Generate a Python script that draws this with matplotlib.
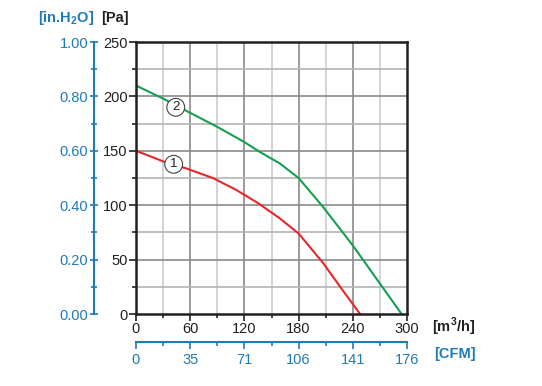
import numpy as np
import matplotlib
matplotlib.use('Agg')
import matplotlib.pyplot as plt

plt.rcParams['font.family'] = ['Liberation Sans', 'DejaVu Sans']
plt.rcParams['mathtext.fontset'] = 'custom'
plt.rcParams['mathtext.rm'] = 'Liberation Sans'
plt.rcParams['mathtext.bf'] = 'Liberation Sans:bold'

# curve 1 (red) and curve 2 (green), flow in m3/h, pressure in Pa
flow1 = [0, 31, 55, 85, 111, 135, 159, 180, 207, 226, 248]
pres1 = [150, 140, 134, 125, 114, 102, 88, 74, 47, 25, 0]
flow2 = [0, 30, 55, 90, 120, 137, 159, 180, 207, 240, 270, 294]
pres2 = [210, 198, 187, 172, 158, 149, 138.5, 125, 98.5, 63, 28, 0]

x_ticks = [0, 60, 120, 180, 240, 300]
cfm_labels = ['0', '35', '71', '106', '141', '176']
pa_ticks = [0, 50, 100, 150, 200, 250]
inh2o_ticks = [0.0, 0.2, 0.4, 0.6, 0.8, 1.0]

blue = '#1f7bb6'
dark = '#231f20'

fig = plt.figure(figsize=(5.42, 3.86), dpi=100)
ax = fig.add_axes([136/542, 72/386, 271/542, 272/386])

# grid
for xv in range(30, 300, 30):
    c = '#8a8a8a' if xv % 60 == 0 else '#cccccc'
    ax.axvline(xv, color=c, lw=1.2, zorder=1)
for yv in range(25, 250, 25):
    c = '#8a8a8a' if yv % 50 == 0 else '#b4b4b4'
    ax.axhline(yv, color=c, lw=1.2, zorder=1)

ax.plot(flow1, pres1, color='#e8262b', lw=1.5, zorder=3)
ax.plot(flow2, pres2, color='#14a050', lw=1.5, zorder=3)

for xc, yc, s in [(41.7, 137.6, '1'), (44, 190, '2')]:
    ax.text(xc, yc, s, ha='center', va='center', fontsize=9.5, color=dark, zorder=4,
            bbox=dict(boxstyle='circle,pad=0.22', fc='white', ec='#444444', lw=0.8))

ax.set_xlim(0, 300)
ax.set_ylim(0, 250)
ax.set_xticks(x_ticks)
ax.set_xticks(range(0, 301, 30), minor=True)
ax.set_yticks(pa_ticks)
ax.set_yticks(range(0, 251, 25), minor=True)
ax.tick_params(axis='both', which='major', direction='out', length=5, width=1.2,
               labelsize=10.5, colors=dark, pad=1)
ax.tick_params(axis='both', which='minor', direction='out', length=3, width=1.2, colors=dark)
for sp in ax.spines.values():
    sp.set_color(dark)
    sp.set_linewidth(1.8)
    sp.set_zorder(5)

# left blue axis in in.H2O
secy = ax.secondary_yaxis(-42/271, functions=(lambda p: p/250, lambda v: v*250))
secy.set_yticks(inh2o_ticks)
secy.set_yticklabels(['%.2f' % v for v in inh2o_ticks])
secy.set_yticks(np.arange(0.1, 1.0, 0.2), minor=True)
secy.tick_params(which='major', direction='inout', length=6, width=1.2, colors=blue,
                 labelsize=10.5, pad=1)
secy.tick_params(which='minor', direction='inout', length=4, width=1.2, colors=blue)
secy.spines['left'].set_color(blue)
secy.spines['left'].set_linewidth(1.5)

# bottom blue axis in CFM
secx = ax.secondary_xaxis(-28/272, functions=(lambda v: v, lambda v: v))
secx.set_xticks(x_ticks)
secx.set_xticklabels(cfm_labels)
secx.set_xticks(range(0, 301, 30), minor=True)
secx.tick_params(which='major', direction='out', length=5, width=1.2, colors=blue,
                 labelsize=10.5, pad=3)
secx.tick_params(which='minor', direction='out', length=3, width=1.2, colors=blue)
secx.spines['bottom'].set_color(blue)
secx.spines['bottom'].set_linewidth(1.5)

# unit labels
fig.text(66/542, 1 - 18/386, r'[in.H$_\mathbf{2}$O]', color=blue, fontsize=10.5,
         fontweight='bold', ha='center', va='center')
fig.text(115/542, 1 - 18/386, '[Pa]', color=dark, fontsize=10.5, fontweight='bold',
         ha='center', va='center')
fig.text(454/542, 1 - 327/386, r'[m$^\mathbf{3}$/h]', color=dark, fontsize=10.5,
         fontweight='bold', ha='center', va='center')
fig.text(455/542, 1 - 354/386, '[CFM]', color=blue, fontsize=10.5, fontweight='bold',
         ha='center', va='center')

fig.savefig('out.png', dpi=100)
